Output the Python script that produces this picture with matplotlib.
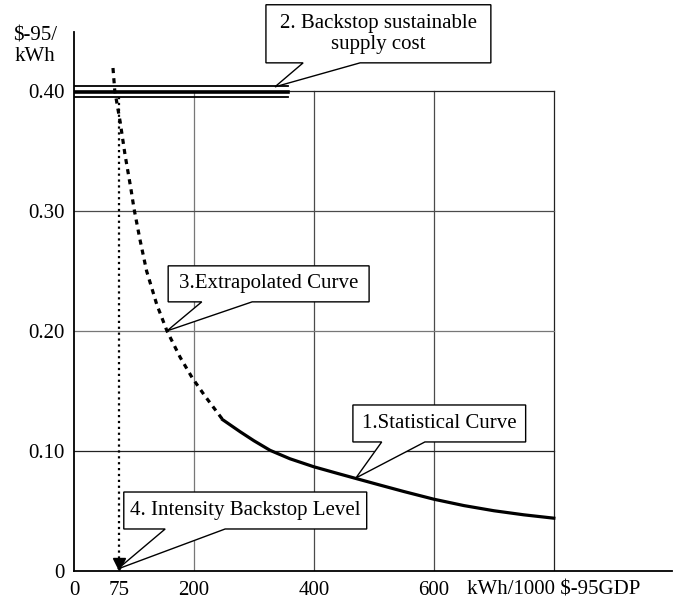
import numpy as np
import matplotlib
matplotlib.use("Agg")
import matplotlib.pyplot as plt
from matplotlib.patches import Polygon

matplotlib.rcParams['font.family'] = ['Liberation Serif', 'DejaVu Serif']
text_size = 15

# statistical curve (solid) and extrapolated curve (dashed)
stat_x = [248, 277, 300, 327, 360, 400, 440, 472, 510, 550, 600, 650, 700, 750, 800]
stat_y = [0.126, 0.116, 0.1085, 0.1005, 0.0935, 0.0868, 0.0812, 0.0768, 0.0716, 0.0662, 0.0598, 0.0545, 0.0502, 0.0468, 0.0440]

extra_x = [65, 68, 77, 85, 95, 100, 110, 121, 138, 155, 177, 197, 218, 248]
extra_y = [0.419, 0.400, 0.374, 0.347, 0.318, 0.302, 0.276, 0.250, 0.222, 0.200, 0.178, 0.161, 0.146, 0.126]

backstop_cost = 0.40
backstop_end = 357
intensity_level = 75

xticks = [0, 75, 200, 400, 600, 800]
xticklabels = ["0", "75", "200", "400", "600", "kWh/1000 $-95GDP"]
yticks = [0, 0.10, 0.20, 0.30, 0.40]
yticklabels = ["0", "0.10", "0.20", "0.30", "0.40"]
grid_x = [200, 400, 600, 800]
grid_y = [0.10, 0.20, 0.30, 0.40]
grid_x_col = ["#777777", "#4a4a4a", "#4a4a4a", "#222222"]
grid_y_col = ["#222222", "#777777", "#4a4a4a", "#222222"]

# callouts: text, box (x0, x1, y0, y1), tail base (xa, xb), tail tip (x, y)
callouts = [
    ("2. Backstop sustainable\nsupply cost", (320, 695, 0.4233, 0.4717), (382, 477), (335, 0.4033)),
    ("3.Extrapolated Curve", (157, 492, 0.2242, 0.2542), (213, 297), (155, 0.200)),
    ("1.Statistical Curve", (465, 753, 0.1075, 0.1383), (513, 585), (470, 0.0775)),
    ("4. Intensity Backstop Level", (83, 488, 0.035, 0.0658), (152, 252), (73, 0.0017)),
]

fig = plt.figure(figsize=(6.76, 5.99), dpi=100)
ax = fig.add_axes([74/676, 28/599, (672-74)/676, (571-32)/599])
ax.set_xlim(0, 997)
ax.set_ylim(0, 0.449)

for s in ["top", "right"]:
    ax.spines[s].set_visible(False)
for s in ["left", "bottom"]:
    ax.spines[s].set_linewidth(1.3)

ax.set_xticks(xticks)
ax.set_xticklabels(xticklabels, fontsize=text_size)
ax.set_yticks(yticks)
ax.set_yticklabels(yticklabels, fontsize=text_size)
ax.tick_params(length=0, pad=7)

for gx, c in zip(grid_x, grid_x_col):
    ax.plot([gx, gx], [0, 0.40], color=c, lw=0.9, zorder=1)
for gy, c in zip(grid_y, grid_y_col):
    ax.plot([0, 800], [gy, gy], color=c, lw=0.9, zorder=1)

# backstop triple line
ax.plot([0, backstop_end], [backstop_cost + 0.0037] * 2, color="k", lw=1.3, zorder=3)
ax.plot([0, backstop_end], [backstop_cost - 0.0012] * 2, color="k", lw=2.6, zorder=3)
ax.plot([0, backstop_end], [backstop_cost - 0.0050] * 2, color="k", lw=1.3, zorder=3)

ax.plot(stat_x, stat_y, color="k", lw=2.3, zorder=4, solid_joinstyle="round")
ax.plot(extra_x, extra_y, color="k", lw=2.3, ls=(0, (1.6, 1.6)), zorder=4)

# dotted drop to the intensity backstop level
ax.plot([intensity_level, intensity_level], [0.395, 0.01], color="k", lw=1.6, ls=":", zorder=4)
ax.plot([intensity_level], [0.006], marker="v", color="k", markersize=8, zorder=5)

ax.text(-65, 0.437, "$-95/\nkWh", ha="center", va="center", fontsize=text_size,
        linespacing=1.1)

for txt, (x0, x1, y0, y1), (xa, xb), (tx, ty) in callouts:
    pts = [(x0, y1), (x1, y1), (x1, y0), (xb, y0), (tx, ty), (xa, y0), (x0, y0)]
    ax.add_patch(Polygon(pts, closed=True, facecolor="white", edgecolor="k",
                         lw=1.0, zorder=6, clip_on=False))
    ax.text((x0 + x1) / 2, (y0 + y1) / 2, txt, ha="center", va="center",
            fontsize=text_size, zorder=7, linespacing=1.1)

plt.savefig("out.png", dpi=100)
